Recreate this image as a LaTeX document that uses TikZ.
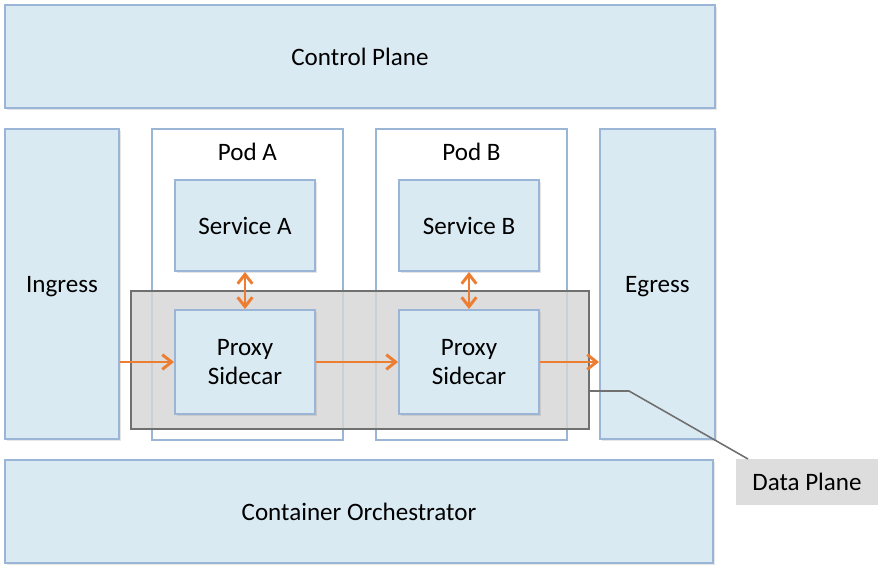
\documentclass[tikz,border=0pt]{standalone}
\usepackage{fontspec}
\setmainfont{Carlito}
\usepackage{tikz}
\usepackage{xcolor}
\usetikzlibrary{positioning,fit,shadows,arrows.meta}
\definecolor{boxfill}{RGB}{218, 234, 243}
\definecolor{boxline}{RGB}{155, 181, 214}
\definecolor{flow}{RGB}{237, 125, 49}
\definecolor{planegray}{RGB}{112, 112, 112}
\definecolor{planefill}{RGB}{214, 214, 214}
\definecolor{tagfill}{RGB}{221, 221, 221}
\tikzset{
    layer/.style={draw=boxline, fill=boxfill, line width=1.5pt, inner sep=0pt,
        drop shadow={shadow xshift=1.2pt, shadow yshift=-1.2pt, opacity=.2}},
    pod/.style={draw=boxline, fill=white, line width=1.2pt, inner sep=0pt},
    plane/.style={draw=planegray, fill=planefill, fill opacity=.82, line width=1.5pt, inner sep=0pt},
    flowarrow/.style={draw=flow, line width=2.2pt, -{Straight Barb[length=7pt,width=11pt]}},
    bothways/.style={flowarrow, {Straight Barb[length=7pt,width=11pt]}-{Straight Barb[length=7pt,width=11pt]}},
    tag/.style={fill=tagfill, inner sep=0pt},
    caption/.style={align=center}
}

\begin{document}
\begin{tikzpicture}[x=0.75pt, y=-0.75pt, font=\fontsize{18.8}{22}\selectfont]
    \useasboundingbox (0,0) rectangle (883,569);
    % outer layers
    \node[layer, fit={(5,5) (715,108)}, label={[caption]center:Control Plane}] (ctrl) {};
    \node[layer, fit={(5,129) (119,439)}, label={[caption, text depth=0pt]center:Ingress}] (ingress) {};
    \node[layer, fit={(600,129) (715,439)}, label={[caption, text depth=0pt]center:Egress}] (egress) {};
    \node[layer, fit={(5,460) (713,563)}, label={[caption]center:Container Orchestrator}] (orch) {};
    % pods
    \node[pod, fit={(152,129) (343,440)}] (podA) {};
    \node[pod, fit={(376,129) (567,440)}] (podB) {};
    \node[caption] (podAname) at ([yshift=-18pt]podA.north) {Pod A};
    \node[caption] (podBname) at ([yshift=-18pt]podB.north) {Pod B};
    \node[layer, fit={(175,180) (315,271)}, label={[caption]center:Service A}] (svcA) {};
    \node[layer, fit={(399,180) (539,271)}, label={[caption]center:Service B}] (svcB) {};
    % data plane
    \node[plane, fit={(131,291) (589,429)}] (dplane) {};
    \node[layer, fit={(175,310) (315,414)}, label={[caption]center:Proxy\\Sidecar}] (proxyA) {};
    \node[layer, fit={(399,310) (539,414)}, label={[caption]center:Proxy\\Sidecar}] (proxyB) {};
    % traffic
    \draw[flowarrow] (ingress.east |- proxyA.west) -- (proxyA.west);
    \draw[flowarrow] (proxyA.east) -- (proxyB.west);
    \draw[flowarrow] (proxyB.east) -- (egress.west |- proxyB.east);
    \draw[bothways] (svcA.south) -- (proxyA.north);
    \draw[bothways] (svcB.south) -- (proxyB.north);
    % callout
    \node[tag, fit={(736,459) (878,505)}, label={[caption]center:Data Plane}] (dtag) {};
    \coordinate (bend) at (629,391);
    \coordinate (tagpin) at (748,459);
    \draw[planegray, line width=1.2pt] (dplane.east |- bend) -- (bend) -- (tagpin);
\end{tikzpicture}
\end{document}
